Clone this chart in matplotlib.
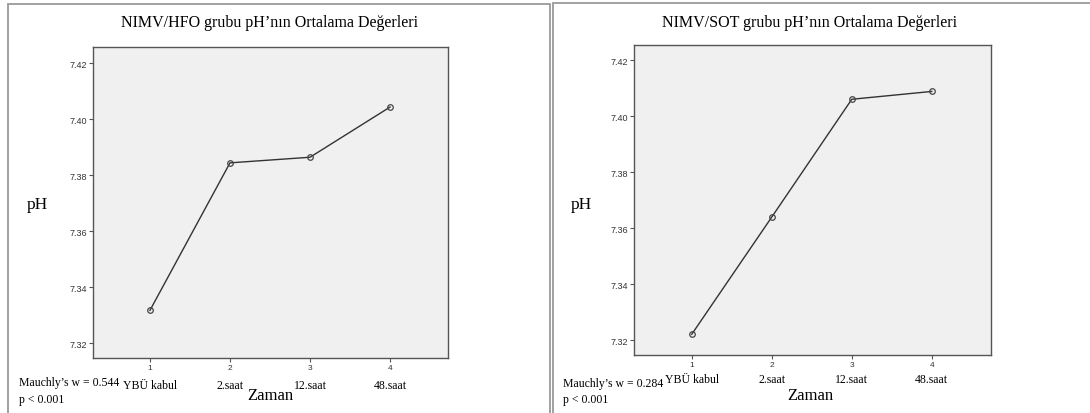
import matplotlib.pyplot as plt
from matplotlib.patches import Rectangle

plt.rcParams['font.family'] = ['Liberation Serif', 'DejaVu Serif']

zaman = ['YBÜ kabul', '2.saat', '12.saat', '48.saat']
tick_nums = [1, 2, 3, 4]
ph_hfo = [7.3318, 7.3844, 7.3864, 7.4043]
ph_sot = [7.3221, 7.3640, 7.4061, 7.4089]
yticks = [7.32, 7.34, 7.36, 7.38, 7.40, 7.42]

panels = [
    ('NIMV/HFO grubu pH\u2019nın Ortalama Değerleri', ph_hfo, 'Mauchly\u2019s w = 0.544', (0.0850, 0.1321, 0.3257, 0.7512), (0.284, 4.72)),
    ('NIMV/SOT grubu pH\u2019nın Ortalama Değerleri', ph_sot, 'Mauchly\u2019s w = 0.284', (0.5814, 0.1401, 0.3278, 0.7495), (0.275, 4.74)),
]

fig = plt.figure(figsize=(10.9, 4.14), dpi=100)
fig.patch.set_facecolor('white')

# panel frames
fig.add_artist(Rectangle((8 / 1090, -0.1), (550 - 8) / 1090, 1 - 5 / 414 + 0.1,
                         transform=fig.transFigure, fill=False, edgecolor='#9a9a9a', lw=1.3))
fig.add_artist(Rectangle((553 / 1090, -0.1), 0.6, 1 - 4 / 414 + 0.1,
                         transform=fig.transFigure, fill=False, edgecolor='#9a9a9a', lw=1.3))

pan_cx = [270 / 1090, 810 / 1090]
pan_left = [19 / 1090, 563 / 1090]
cat_y = [-0.085, -0.078]
m_y = [383, 384]

for i, (title, vals, mtext, rect, xl) in enumerate(panels):
    ax = fig.add_axes(rect)
    ax.set_facecolor('#f0f0f0')
    ax.plot(tick_nums, vals, color='#333333', lw=1.0, marker='o', markersize=4,
            markerfacecolor='none', markeredgecolor='#444444', markeredgewidth=0.9)
    ax.set_xlim(*xl)
    ax.set_ylim(7.3147, 7.4256)
    ax.set_yticks(yticks)
    ax.set_yticklabels(['%.2f' % v for v in yticks], family='Liberation Sans', fontsize=6.5, color='#333333')
    ax.set_xticks(tick_nums)
    ax.set_xticklabels([str(t) for t in tick_nums], family='Liberation Sans', fontsize=6, color='#333333')
    ax.tick_params(axis='both', length=3, width=0.8, color='#555555', pad=1)
    for s in ax.spines.values():
        s.set_color('#555555')
        s.set_linewidth(1.0)
    for x, lab in zip(tick_nums, zaman):
        ax.text(x, cat_y[i], lab, transform=ax.get_xaxis_transform(), ha='center', va='center', fontsize=8.5)

    fig.text(pan_cx[i], 1 - 23 / 414, title, ha='center', va='center', fontsize=11.5)
    fig.text(pan_left[i] + 18 / 1090, 1 - 205 / 414, 'pH', ha='center', va='center', fontsize=12.5)
    fig.text(pan_cx[i], 1 - 396 / 414, 'Zaman', ha='center', va='center', fontsize=12)
    fig.text(pan_left[i], 1 - m_y[i] / 414, mtext, ha='left', va='center', fontsize=8.5)
    fig.text(pan_left[i], 1 - 400 / 414, 'p < 0.001', ha='left', va='center', fontsize=8.5)

fig.savefig('out.png', dpi=100)
